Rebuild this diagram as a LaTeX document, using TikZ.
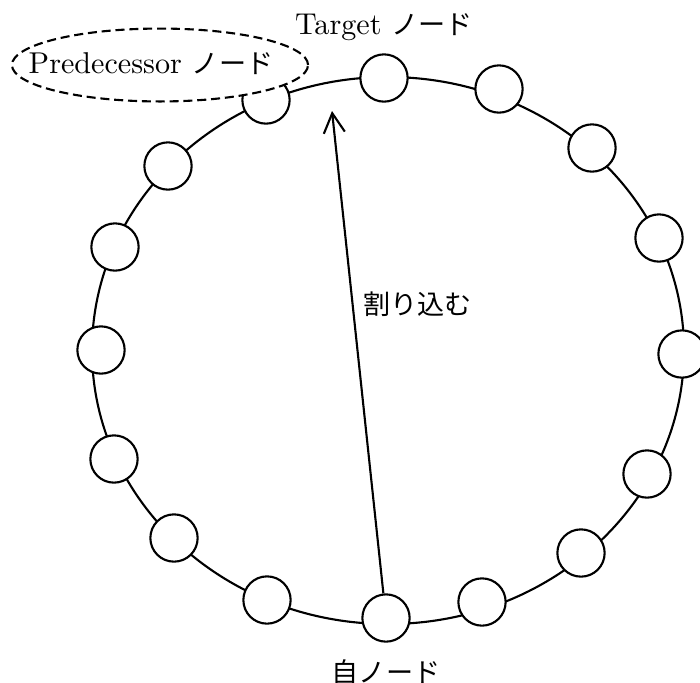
\documentclass[tikz,border=0pt]{standalone}
\usepackage{fontspec}
\newfontfamily\jpfont[Scale=0.9]{Noto Sans CJK JP}
\usetikzlibrary{shapes.geometric, arrows.meta, positioning}

\begin{document}
\begin{tikzpicture}[
    x=0.332pt, y=-0.332pt,
    line width=0.7pt,
    peer/.style={draw, circle, fill=white, minimum size=15.7pt, inner sep=0pt},
    pred ring/.style={draw, fill=white, ellipse, dash pattern=on 3pt off 1.6pt, minimum width=98.3pt, minimum height=24.2pt, inner sep=0pt},
    label text/.style={font=\normalsize}
]
\useasboundingbox (0,0) rectangle (700,682);

% Ring
\draw (388,350.5) ellipse [x radius=296, y radius=273.5];

% Nodes
\node[peer] (n0) at (384,78) {};
\node[peer] (n1) at (499,89) {};
\node[peer] (n2) at (592,148) {};
\node[peer] (n3) at (659,238) {};
\node[peer] (n4) at (682,354) {};
\node[peer] (n5) at (647,474) {};
\node[peer] (n6) at (581,553) {};
\node[peer] (n7) at (482,602) {};
\node[peer] (n8) at (386,618) {};
\node[peer] (n9) at (267,600) {};
\node[peer] (n10) at (174,538) {};
\node[peer] (n11) at (114,459) {};
\node[peer] (n12) at (101,350) {};
\node[peer] (n13) at (115,247) {};
\node[peer] (n14) at (168,166) {};
\node[peer] (n15) at (266,100) {};

% Labels
\node[pred ring] (pred) at (160,65) {};
\node[label text] at (151,64) {Predecessor {\jpfont ノード}};
\node[above=0.5pt of n0, label text] (target) {Target {\jpfont ノード}};
\node[below=2pt of n8, label text] (self) {\jpfont 自ノード};

% Join
\coordinate (cut) at (332,111);
\draw[-{Straight Barb[length=6.5pt, width=7pt]}] (n8) -- node[pos=0.6, right, label text] {\jpfont 割り込む} (cut);

\end{tikzpicture}
\end{document}
